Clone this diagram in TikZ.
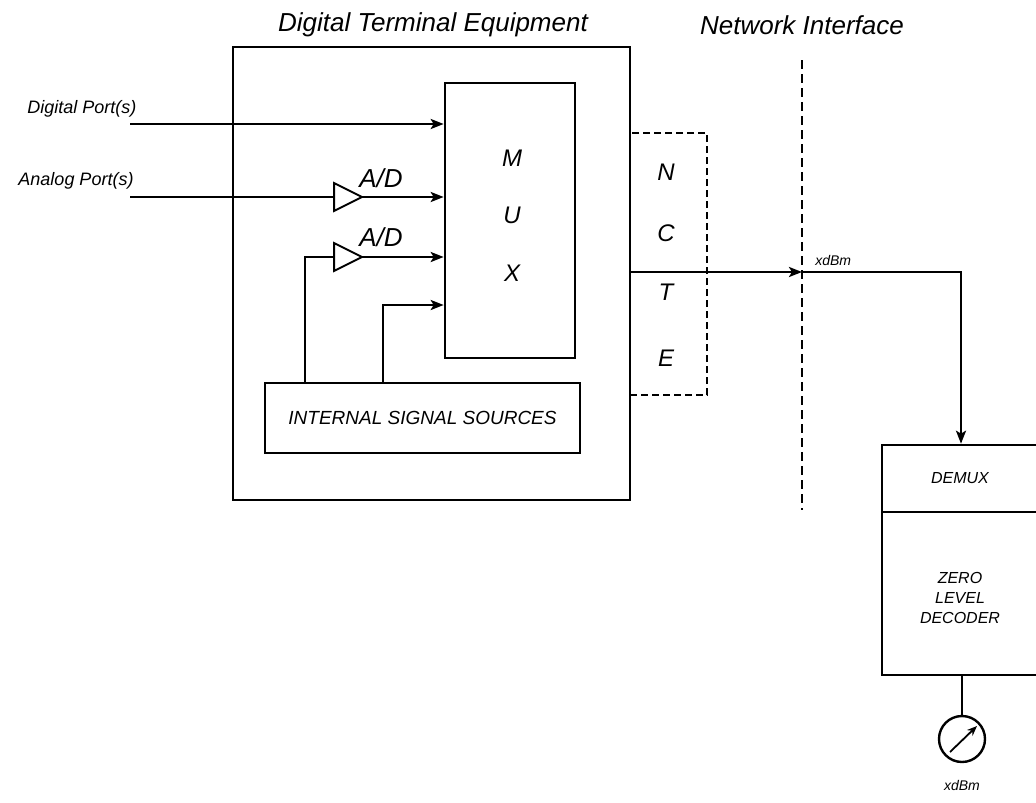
\documentclass[tikz,border=0pt]{standalone}
\usepackage{fontspec}
\setmainfont{Liberation Sans}
\usetikzlibrary{arrows.meta,calc}
\begin{document}
\begin{tikzpicture}[x=1pt,y=-1pt,
  line width=2.6pt,
  boxed/.style={draw,line width=2.6pt,inner sep=0pt},
  dashbox/.style={draw,line width=2pt,dash pattern=on 7pt off 4pt,inner sep=0pt},
  arr/.style={-{Stealth[length=13pt,width=10pt,inset=3pt]}},
  txt/.style={font=\fontsize{#1}{#1}\selectfont\itshape,inner sep=0pt},
  txt/.default=14]
\useasboundingbox (0,0) rectangle (1036,803);
% titles
\node[txt=26] (t1) at (433,25) {Digital Terminal Equipment};
\node[txt=26] (t2) at (802,25) {Network Interface};
% boxes
\node[dashbox,minimum width=77,minimum height=262] (ncte) at (668.5,264) {};
\node[boxed,minimum width=397,minimum height=453] (dte) at (431.5,273.5) {};
\node[boxed,minimum width=130,minimum height=275] (mux) at (510,220.5) {};
\node[boxed,minimum width=315,minimum height=70] (iss) at (422.5,418) {};
\node[txt=19] at (iss.center) {INTERNAL SIGNAL SOURCES};
% MUX letters
\node[txt=24] (m) at (512,158) {M};
\node[txt=24] (u) at (512,215) {U};
\node[txt=24] (x) at (512,273) {X};
% NCTE letters
\node[txt=24] (n) at (666,172) {N};
\node[txt=24] (c) at (666,233) {C};
\node[txt=24] (t) at (666,292) {T};
\node[txt=24] (e) at (666,358) {E};
% network interface dashed line
\coordinate (nitop) at (802,60);
\coordinate (nibot) at (802,510);
\draw[line width=2pt,dash pattern=on 9pt off 5pt] (nitop) -- (nibot);
% port labels
\node[txt=18] (dpl) at (82,109) {Digital Port(s)};
\node[txt=18] (apl) at (76,181) {Analog Port(s)};
% digital port
\coordinate (dp) at (130,124);
\draw[arr] (dp) -- (mux.west |- dp);
% A/D converters
\coordinate (ad1in) at (334,197);
\coordinate (ad1out) at (362,197);
\draw[line width=2pt,line join=miter] (334,183) -- (ad1out) -- (334,211) -- cycle;
\node[txt=26] (ad1l) at (381,178) {A/D};
\coordinate (ap) at (130,197);
\draw (ap) -- (ad1in);
\draw[arr] (ad1out) -- (mux.west |- ad1out);
\coordinate (ad2in) at (334,257);
\coordinate (ad2out) at (362,257);
\draw[line width=2pt,line join=miter] (334,243) -- (ad2out) -- (334,271) -- cycle;
\node[txt=26] (ad2l) at (381,237) {A/D};
\draw[arr] (ad2out) -- (mux.west |- ad2out);
% internal sources feeds
\coordinate (s1) at (305,0);
\coordinate (s2) at (383,0);
\coordinate (m4) at (0,305);
\draw (iss.north -| s1) |- (ad2in);
\draw[arr] (iss.north -| s2) |- (mux.west |- m4);
% output
\coordinate (o) at (630,272);
\coordinate (ni) at (802,272);
\draw[arr] (o) -- (ni);
\node[txt=14,anchor=west] (xl1) at (814,260) {xdBm};
% demux / decoder
\node (demux) at (961,560) [minimum width=158,minimum height=230,inner sep=0pt] {};
\draw (1036,445) -| (882,675) -- (1036,675);
\draw (882,512) -- (1036,512);
\draw[arr] (ni) -| (demux.north);
\node[txt=16] (dmx) at (960,478) {DEMUX};
\node[txt=16,align=center,font=\fontsize{16}{20}\selectfont\itshape] (zld) at (960,598) {ZERO\\LEVEL\\DECODER};
% meter
\node[draw,circle,line width=2.4pt,minimum size=46pt,inner sep=0pt] (meter) at (962,739) {};
\draw (demux.south -| meter) -- (meter.north);
\coordinate (na) at (950,752);
\coordinate (nb) at (977,726);
\draw[-{Stealth[length=10pt,width=8pt]},line width=1.8pt] (na) -- (nb);
\node[txt=14] (xl2) at (962,785) {xdBm};
\end{tikzpicture}
\end{document}
